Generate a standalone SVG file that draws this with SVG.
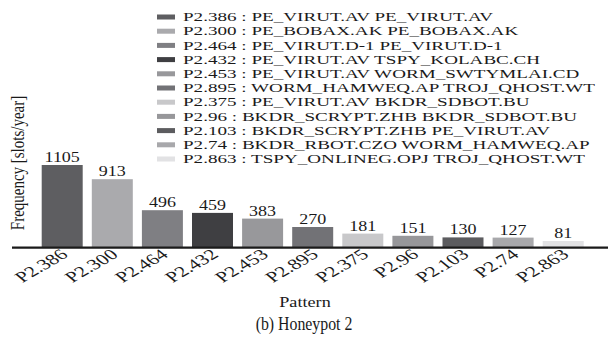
<svg xmlns="http://www.w3.org/2000/svg" width="609" height="338" viewBox="0 0 609 338">
<style>
text{font-family:"Liberation Serif","Times New Roman",serif;fill:#1a1a1a}
.leg{font-size:12.6px}
.val{font-size:15px;text-anchor:middle}
.tick{font-size:15px;text-anchor:end}
.c1{fill:#5e5e61}.c2{fill:#aaaaad}.c3{fill:#7f7f83}.c4{fill:#3f3f42}.c5{fill:#98989b}.c6{fill:#727276}
.c7{fill:#c8c8ca}.c8{fill:#97979a}.c9{fill:#5c5c5f}.c10{fill:#a8a8ab}.c11{fill:#e2e2e4}
</style>
<rect width="609" height="338" fill="#fff"/>
<g id="legend">
<rect class="c1" x="157" y="14.5" width="18" height="5"/>
<rect class="c2" x="157" y="28.7" width="18" height="5"/>
<rect class="c3" x="157" y="42.9" width="18" height="5"/>
<rect class="c4" x="157" y="57.1" width="18" height="5"/>
<rect class="c5" x="157" y="71.3" width="18" height="5"/>
<rect class="c6" x="157" y="85.5" width="18" height="5"/>
<rect class="c7" x="157" y="99.7" width="18" height="5"/>
<rect class="c8" x="157" y="113.9" width="18" height="5"/>
<rect class="c9" x="157" y="128.1" width="18" height="5"/>
<rect class="c10" x="157" y="142.3" width="18" height="5"/>
<rect class="c11" x="157" y="156.5" width="18" height="5"/>
<g transform="translate(183,0) scale(1.516,1)" class="leg">
<text x="0" y="21.3">P2.386 : PE_VIRUT.AV PE_VIRUT.AV</text>
<text x="0" y="35.5">P2.300 : PE_BOBAX.AK PE_BOBAX.AK</text>
<text x="0" y="49.7">P2.464 : PE_VIRUT.D-1 PE_VIRUT.D-1</text>
<text x="0" y="63.9">P2.432 : PE_VIRUT.AV TSPY_KOLABC.CH</text>
<text x="0" y="78.1">P2.453 : PE_VIRUT.AV WORM_SWTYMLAI.CD</text>
<text x="0" y="92.3">P2.895 : WORM_HAMWEQ.AP TROJ_QHOST.WT</text>
<text x="0" y="106.5">P2.375 : PE_VIRUT.AV BKDR_SDBOT.BU</text>
<text x="0" y="120.7">P2.96 : BKDR_SCRYPT.ZHB BKDR_SDBOT.BU</text>
<text x="0" y="134.9">P2.103 : BKDR_SCRYPT.ZHB PE_VIRUT.AV</text>
<text x="0" y="149.1">P2.74 : BKDR_RBOT.CZO WORM_HAMWEQ.AP</text>
<text x="0" y="163.3">P2.863 : TSPY_ONLINEG.OPJ TROJ_QHOST.WT</text>
</g>
</g>
<g id="bars">
<rect class="c1" x="41.7" y="165" width="41" height="82"/>
<rect class="c2" x="91.8" y="179.2" width="41" height="67.8"/>
<rect class="c3" x="141.9" y="210.2" width="41" height="36.8"/>
<rect class="c4" x="192" y="212.9" width="41" height="34.1"/>
<rect class="c5" x="242.1" y="218.6" width="41" height="28.4"/>
<rect class="c6" x="292.2" y="227" width="41" height="20"/>
<rect class="c7" x="342.3" y="233.6" width="41" height="13.4"/>
<rect class="c8" x="392.4" y="235.8" width="41" height="11.2"/>
<rect class="c9" x="442.5" y="237.4" width="41" height="9.6"/>
<rect class="c10" x="492.6" y="237.6" width="41" height="9.4"/>
<rect class="c11" x="542.7" y="241" width="41" height="6"/>
</g>
<g id="values" class="val">
<text transform="translate(62.2,162) scale(1.2,1)">1105</text>
<text transform="translate(112.3,176.2) scale(1.2,1)">913</text>
<text transform="translate(162.4,207.2) scale(1.2,1)">496</text>
<text transform="translate(212.5,209.9) scale(1.2,1)">459</text>
<text transform="translate(262.6,215.6) scale(1.2,1)">383</text>
<text transform="translate(312.7,224) scale(1.2,1)">270</text>
<text transform="translate(362.8,230.6) scale(1.2,1)">181</text>
<text transform="translate(412.9,232.8) scale(1.2,1)">151</text>
<text transform="translate(463,234.4) scale(1.2,1)">130</text>
<text transform="translate(513.1,234.6) scale(1.2,1)">127</text>
<text transform="translate(563.2,238) scale(1.2,1)">81</text>
</g>
<g id="axes">
<line x1="12" y1="247.7" x2="608" y2="247.7" stroke="#1a1a1a" stroke-width="2.2"/>
</g>
<g id="ticks" class="tick">
<text transform="translate(69.2,256) scale(1.45,1) rotate(-40)">P2.386</text>
<text transform="translate(119.3,256) scale(1.45,1) rotate(-40)">P2.300</text>
<text transform="translate(169.4,256) scale(1.45,1) rotate(-40)">P2.464</text>
<text transform="translate(219.5,256) scale(1.45,1) rotate(-40)">P2.432</text>
<text transform="translate(269.6,256) scale(1.45,1) rotate(-40)">P2.453</text>
<text transform="translate(319.7,256) scale(1.45,1) rotate(-40)">P2.895</text>
<text transform="translate(369.8,256) scale(1.45,1) rotate(-40)">P2.375</text>
<text transform="translate(419.9,256) scale(1.45,1) rotate(-40)">P2.96</text>
<text transform="translate(470,256) scale(1.45,1) rotate(-40)">P2.103</text>
<text transform="translate(520.1,256) scale(1.45,1) rotate(-40)">P2.74</text>
<text transform="translate(570.2,256) scale(1.45,1) rotate(-40)">P2.863</text>
</g>
<g id="labels">
<text transform="translate(24,163) scale(1.2,1) rotate(-90)" style="font-size:15px;text-anchor:middle">Frequency [slots/year]</text>
<text transform="translate(305,307) scale(1.3,1)" style="font-size:14px;text-anchor:middle">Pattern</text>
<text transform="translate(304,330) scale(0.88,1)" style="font-size:18px;text-anchor:middle">(b) Honeypot 2</text>
</g>
</svg>
